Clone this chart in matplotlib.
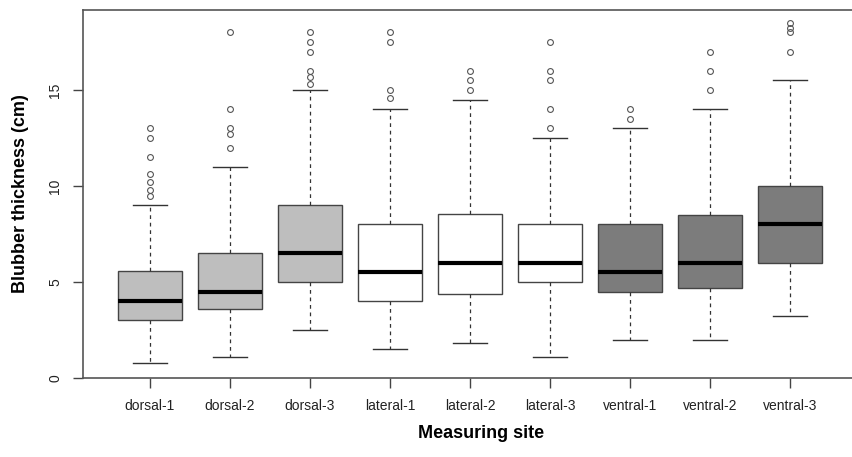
import matplotlib.pyplot as plt

plt.rcParams['font.family'] = ['Liberation Sans', 'DejaVu Sans']

sites = ['dorsal-1', 'dorsal-2', 'dorsal-3', 'lateral-1', 'lateral-2',
         'lateral-3', 'ventral-1', 'ventral-2', 'ventral-3']
whislo = [0.8, 1.1, 2.5, 1.5, 1.8, 1.1, 2.0, 2.0, 3.25]
q1 = [3.0, 3.6, 5.0, 4.0, 4.4, 5.0, 4.5, 4.7, 6.0]
med = [4.0, 4.5, 6.5, 5.5, 6.0, 6.0, 5.5, 6.0, 8.0]
q3 = [5.55, 6.5, 9.0, 8.0, 8.55, 8.0, 8.0, 8.5, 10.0]
whishi = [9.0, 11.0, 15.0, 14.0, 14.5, 12.5, 13.0, 14.0, 15.5]
fliers = [
    [9.5, 9.8, 10.2, 10.6, 11.5, 12.5, 13.0],
    [12.0, 12.7, 13.0, 14.0, 18.0],
    [15.3, 15.7, 16.0, 17.0, 17.5, 18.0],
    [14.6, 15.0, 17.5, 18.0],
    [15.0, 15.5, 16.0],
    [13.0, 14.0, 15.5, 16.0, 17.5],
    [13.5, 14.0],
    [15.0, 16.0, 17.0],
    [17.0, 18.0, 18.25, 18.5],
]
box_colors = ['#bebebe'] * 3 + ['#ffffff'] * 3 + ['#7c7c7c'] * 3

stats = []
for i in range(len(sites)):
    stats.append({'label': sites[i], 'whislo': whislo[i], 'q1': q1[i],
                  'med': med[i], 'q3': q3[i], 'whishi': whishi[i],
                  'fliers': fliers[i]})

W, H = 853, 457
fig = plt.figure(figsize=(W / 100, H / 100), dpi=100)
ax = fig.add_axes([83 / W, (H - 378) / H, (880 - 83) / W, (378 - 10) / H])

bp = ax.bxp(stats, positions=range(1, 10), widths=0.8, patch_artist=True,
            boxprops=dict(edgecolor='#444444', linewidth=1.0),
            medianprops=dict(color='black', linewidth=3),
            whiskerprops=dict(color='#333333', linestyle=(0, (3, 3)), linewidth=0.9),
            capprops=dict(color='#333333', linewidth=1.0),
            capwidths=0.42,
            flierprops=dict(marker='o', markersize=4.2, markerfacecolor='none',
                            markeredgecolor='#555555', markeredgewidth=0.8))
for patch, c in zip(bp['boxes'], box_colors):
    patch.set_facecolor(c)

ax.set_xlim(0.1625, 10.125)
ax.set_ylim(0, 368 / 19.2)
ax.set_yticks([0, 5, 10, 15])
ax.set_yticklabels(['0', '5', '10', '15'], rotation=90, va='center')
ax.tick_params(axis='both', length=7, width=1, color='#444444',
               labelsize=10, labelcolor='#222222', pad=8)
ax.tick_params(axis='x', pad=8)

for s in ['left', 'top', 'bottom']:
    ax.spines[s].set_color('#555555')
    ax.spines[s].set_linewidth(1.2)
ax.spines['right'].set_visible(False)

ax.set_xlabel('Measuring site', fontsize=13, fontweight='bold', labelpad=9)
ax.set_ylabel('Blubber thickness (cm)', fontsize=13, fontweight='bold', labelpad=14)

fig.savefig('out.png', dpi=100)
